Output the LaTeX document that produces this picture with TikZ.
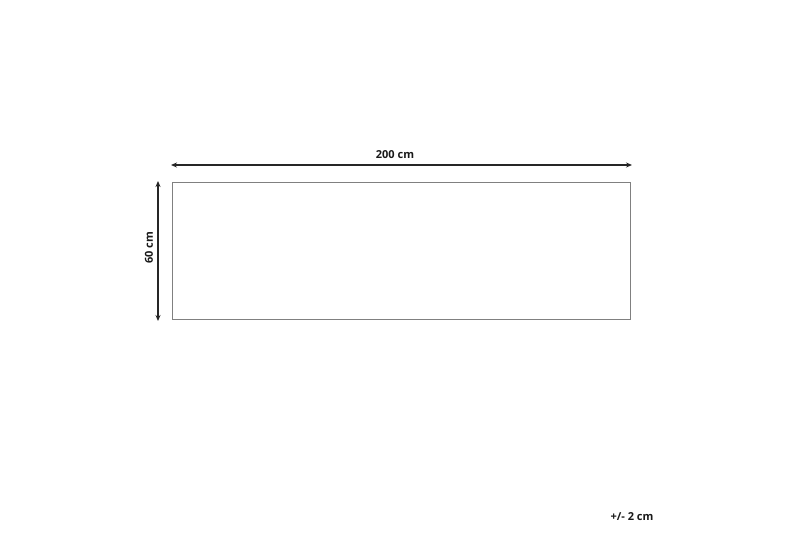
\documentclass[tikz,border=0pt]{standalone}
\usepackage{fontspec}
\setmainfont{Open Sans}
\usetikzlibrary{arrows.meta}
\begin{document}
\begin{tikzpicture}[x=1pt,y=-1pt,
  dim/.style={draw=black!85,line width=1.3pt,{Stealth[length=6pt,width=5pt]}-{Stealth[length=6pt,width=5pt]}},
  lbl/.style={font=\fontsize{11}{13}\selectfont\bfseries,text=black!90,inner sep=0pt}]
\useasboundingbox (0,0) rectangle (800,533);
\node[draw=black!50,line width=1pt,minimum width=458pt,minimum height=137pt,inner sep=0pt,anchor=north west] (rug) at (172,182) {};
\coordinate (hl) at (171,165);
\coordinate (hr) at (632,165);
\coordinate (vt) at (158,181);
\coordinate (vb) at (158,321);
\draw[dim] (hl) -- (hr);
\draw[dim] (vt) -- (vb);
\node[lbl] (w) at (395,155) {200 cm};
\node[lbl,rotate=90] (h) at (149,248) {60 cm};
\node[lbl] (tol) at (632,517) {+/- 2 cm};
\end{tikzpicture}
\end{document}
